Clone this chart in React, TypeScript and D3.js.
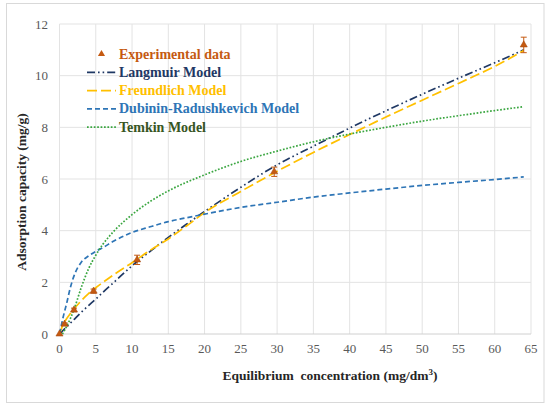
import * as d3 from "d3";

// experimental points (x = Ce, y = qe) with error bar half-widths
const expX = [0, 0.7, 2.0, 4.7, 10.7, 29.6, 64.0];
const expY = [0, 0.38, 0.93, 1.66, 2.87, 6.28, 11.19];
const expErr = [0, 0.05, 0.07, 0.08, 0.18, 0.18, 0.3];

// model curves
const modelX = [0, 0.5, 1, 1.5, 2, 3, 4, 5, 6, 7.5, 10, 12.5, 15, 17.5, 20, 25, 30, 35, 40, 45, 50, 55, 60, 64];
const langmuirY = [0, 0.14, 0.28, 0.42, 0.56, 0.84, 1.1, 1.35, 1.62, 2.0, 2.64, 3.2, 3.74, 4.25, 4.74, 5.68, 6.55, 7.27, 7.97, 8.64, 9.28, 9.9, 10.5, 11.0];
const freundlichY = [0, 0.36, 0.6, 0.79, 0.97, 1.29, 1.56, 1.79, 2.0, 2.3, 2.76, 3.24, 3.68, 4.18, 4.7, 5.52, 6.3, 7.03, 7.72, 8.4, 9.05, 9.7, 10.36, 10.97];
const dubininY = [0, 0.65, 1.2, 1.8, 2.25, 2.78, 3.02, 3.2, 3.35, 3.6, 3.93, 4.15, 4.35, 4.5, 4.64, 4.9, 5.1, 5.3, 5.46, 5.61, 5.75, 5.87, 5.98, 6.08];
const temkinX = [0.4, 1, 1.5, 2, 3, 4, 5, 6, 7.5, 10, 12.5, 15, 20, 25, 30, 35, 40, 45, 50, 55, 60, 64];
const temkinY = [0, 0.3, 0.6, 0.95, 1.8, 2.52, 3.05, 3.48, 3.98, 4.62, 5.13, 5.54, 6.16, 6.68, 7.08, 7.44, 7.74, 8.0, 8.24, 8.45, 8.65, 8.8];

const xTicks = d3.range(0, 66, 5);
const yTicks = d3.range(0, 13, 2);

const series = [
  { name: "Langmuir Model", xs: modelX, ys: langmuirY, color: "#1F3864", text: "#1F3864", dash: "8,3,1.6,3,1.6,3" },
  { name: "Freundlich Model", xs: modelX, ys: freundlichY, color: "#FFC000", text: "#FFC000", dash: "10,4" },
  { name: "Dubinin-Radushkevich Model", xs: modelX, ys: dubininY, color: "#2E75B6", text: "#2E75B6", dash: "5,3" },
  { name: "Temkin Model", xs: temkinX, ys: temkinY, color: "#3AA640", text: "#375623", dash: "1.7,1.7" },
];

const font = '"Liberation Serif", serif';
const expColor = "#C55A11";

export default function App() {
  const W = 550;
  const H = 408;
  const m = { left: 59.5, right: 531, top: 24, bottom: 334 };

  const x = d3.scaleLinear().domain([0, 65]).range([m.left, m.right]);
  const y = d3.scaleLinear().domain([0, 12]).range([m.bottom, m.top]);

  const line = d3
    .line<[number, number]>()
    .x((d) => x(d[0]))
    .y((d) => y(d[1]))
    .curve(d3.curveMonotoneX);

  const tri = d3.symbol().type(d3.symbolTriangle).size(22)();

  const legendX = 87;
  const legendY0 = 54;
  const legendDy = 18.3;

  return (
    <svg
      width={W}
      height={H}
      style={{ position: "absolute", left: 0, top: 0, background: "#fff", fontFamily: font }}
    >
      <rect x={6.5} y={3.5} width={537.5} height={399} fill="#fff" stroke="#D9D9D9" />

      {/* grid */}
      {xTicks.map((t) => (
        <line key={"gx" + t} x1={x(t)} x2={x(t)} y1={m.top} y2={m.bottom} stroke="#E3E3E3" />
      ))}
      {yTicks.map((t) => (
        <line key={"gy" + t} x1={m.left} x2={m.right} y1={y(t)} y2={y(t)} stroke={t === 0 ? "#D0D0D0" : "#E3E3E3"} />
      ))}

      {/* tick labels */}
      {xTicks.map((t) => (
        <text key={"tx" + t} x={x(t)} y={353} textAnchor="middle" fontSize={13} fill="#595959">
          {t}
        </text>
      ))}
      {yTicks.map((t) => (
        <text key={"ty" + t} x={48} y={y(t) + 4.5} textAnchor="end" fontSize={13} fill="#595959">
          {t}
        </text>
      ))}

      {/* axis titles */}
      <text x={330} y={380} textAnchor="middle" fontSize={13.5} fontWeight="bold" fill="#262626">
        Equilibrium&#160; concentration (mg/dm<tspan dy={-5} fontSize={9}>3</tspan>
        <tspan dy={5}>)</tspan>
      </text>
      <text
        transform={`translate(26,192) rotate(-90)`}
        textAnchor="middle"
        fontSize={13.5}
        fontWeight="bold"
        fill="#262626"
      >
        Adsorption capacity (mg/g)
      </text>

      {/* model curves */}
      {series.map((s) => (
        <path
          key={s.name}
          d={line(s.xs.map((v, i) => [v, s.ys[i]] as [number, number])) || ""}
          fill="none"
          stroke={s.color}
          strokeWidth={1.7}
          strokeDasharray={s.dash}
        />
      ))}

      {/* experimental data */}
      {expX.map((v, i) => (
        <g key={"e" + i}>
          {expErr[i] > 0 && (
            <g stroke={expColor} strokeWidth={1}>
              <line x1={x(v)} x2={x(v)} y1={y(expY[i] - expErr[i])} y2={y(expY[i] + expErr[i])} />
              <line x1={x(v) - 3} x2={x(v) + 3} y1={y(expY[i] - expErr[i])} y2={y(expY[i] - expErr[i])} />
              <line x1={x(v) - 3} x2={x(v) + 3} y1={y(expY[i] + expErr[i])} y2={y(expY[i] + expErr[i])} />
            </g>
          )}
          <path d={tri || ""} transform={`translate(${x(v)},${y(expY[i])})`} fill={expColor} stroke="#A0450C" strokeWidth={0.5} />
        </g>
      ))}

      {/* legend */}
      <g fontSize={14} fontWeight="bold">
        <path d={tri || ""} transform={`translate(${legendX + 14.5},${legendY0})`} fill={expColor} />
        <text x={119} y={legendY0 + 4.5} fill={expColor}>
          Experimental data
        </text>
        {series.map((s, i) => {
          const ly = legendY0 + legendDy * (i + 1);
          return (
            <g key={"l" + s.name}>
              <line x1={legendX} x2={legendX + 29} y1={ly} y2={ly} stroke={s.color} strokeWidth={1.7} strokeDasharray={s.dash} />
              <text x={119} y={ly + 4.5} fill={s.text}>
                {s.name}
              </text>
            </g>
          );
        })}
      </g>
    </svg>
  );
}
